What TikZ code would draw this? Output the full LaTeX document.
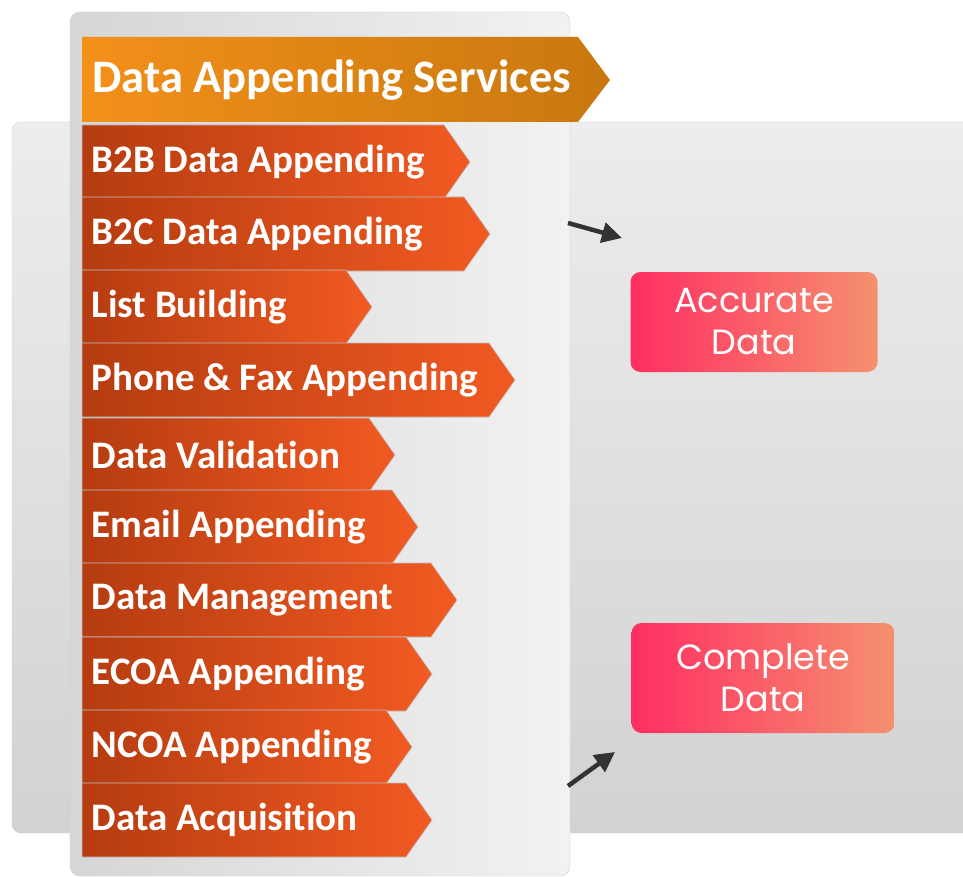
\documentclass[tikz,border=0pt]{standalone}
\usepackage{fontspec}
\setmainfont{Carlito}[Ligatures=NoCommon]
\newfontfamily\gothic{Poppins}
\usetikzlibrary{arrows.meta}

\definecolor{titleL}{HTML}{F3901A}
\definecolor{titleR}{HTML}{C8780F}
\definecolor{rowL}{HTML}{B53C10}
\definecolor{rowR}{HTML}{F25A22}
\definecolor{boxL}{HTML}{FF2E62}
\definecolor{boxR}{HTML}{F5916F}
\definecolor{frontL}{HTML}{D6D6D6}
\definecolor{frontR}{HTML}{F2F2F2}
\definecolor{backT}{HTML}{EDEDED}
\definecolor{backB}{HTML}{D2D2D2}

\tikzset{
  rowtext/.style={anchor=west,text=white,font=\bfseries\fontsize{39}{42}\selectfont},
  resultbox/.style={rounded corners=10pt,left color=boxL,right color=boxR,text=white,
    align=center,font=\gothic\fontsize{35}{42}\selectfont},
  pointer/.style={-{Triangle[length=20pt,width=20pt]},line width=4.5pt,draw=black!80}
}

\begin{document}
\begin{tikzpicture}[x=1pt,y=-1pt]
\useasboundingbox (0,0) rectangle (963,877);
\fill[white] (0,0) rectangle (963,877);

% panels
\shade[rounded corners=9pt,top color=backT,bottom color=backB,draw=black!18] (12,122) rectangle (990,833);
\shade[rounded corners=10pt,left color=frontL,right color=frontR,draw=black!18] (70,12) rectangle (570,876);

% title banner
\shade[left color=titleL,right color=titleR] (82,37) -- (578,37) -- (610,80) -- (578,122) -- (82,122) -- cycle;
\node (title) at (89,80) [anchor=west,text=white,font=\bfseries\fontsize{46.5}{50}\selectfont] {Data Appending Services};

% rows
\foreach \n/\y/\tip/\txt in {1/125/470/B2B Data Appending, 2/197/490/B2C Data Appending,
    3/270/372/List Building, 4/343/515/{Phone \& Fax Appending}, 5/418/395/Data Validation,
    6/490/418/Email Appending, 7/563/457/Data Management, 8/637/432/ECOA Appending,
    9/710/412/NCOA Appending, 10/783/432/Data Acquisition} {
  \shade[left color=rowL,right color=rowR,draw=black!25,line width=0.6pt]
    (82,\y) -- (\tip-26,\y) -- (\tip,\y+37) -- (\tip-26,\y+74) -- (82,\y+74) -- cycle;
  \node (r\n) at (88,\y+37) [rowtext] {\txt};
}

% results
\node (acc) at (754,322) [resultbox,minimum width=247pt,minimum height=100pt] {Accurate\\Data};
\node (comp) at (763,678) [resultbox,minimum width=263pt,minimum height=110pt] {Complete\\Data};

% arrows
\coordinate (a1) at (568,223);
\coordinate (b1) at (622,238);
\coordinate (a2) at (568,786);
\coordinate (b2) at (615,752);
\draw [pointer] (a1) -- (b1);
\draw [pointer] (a2) -- (b2);

\end{tikzpicture}
\end{document}
